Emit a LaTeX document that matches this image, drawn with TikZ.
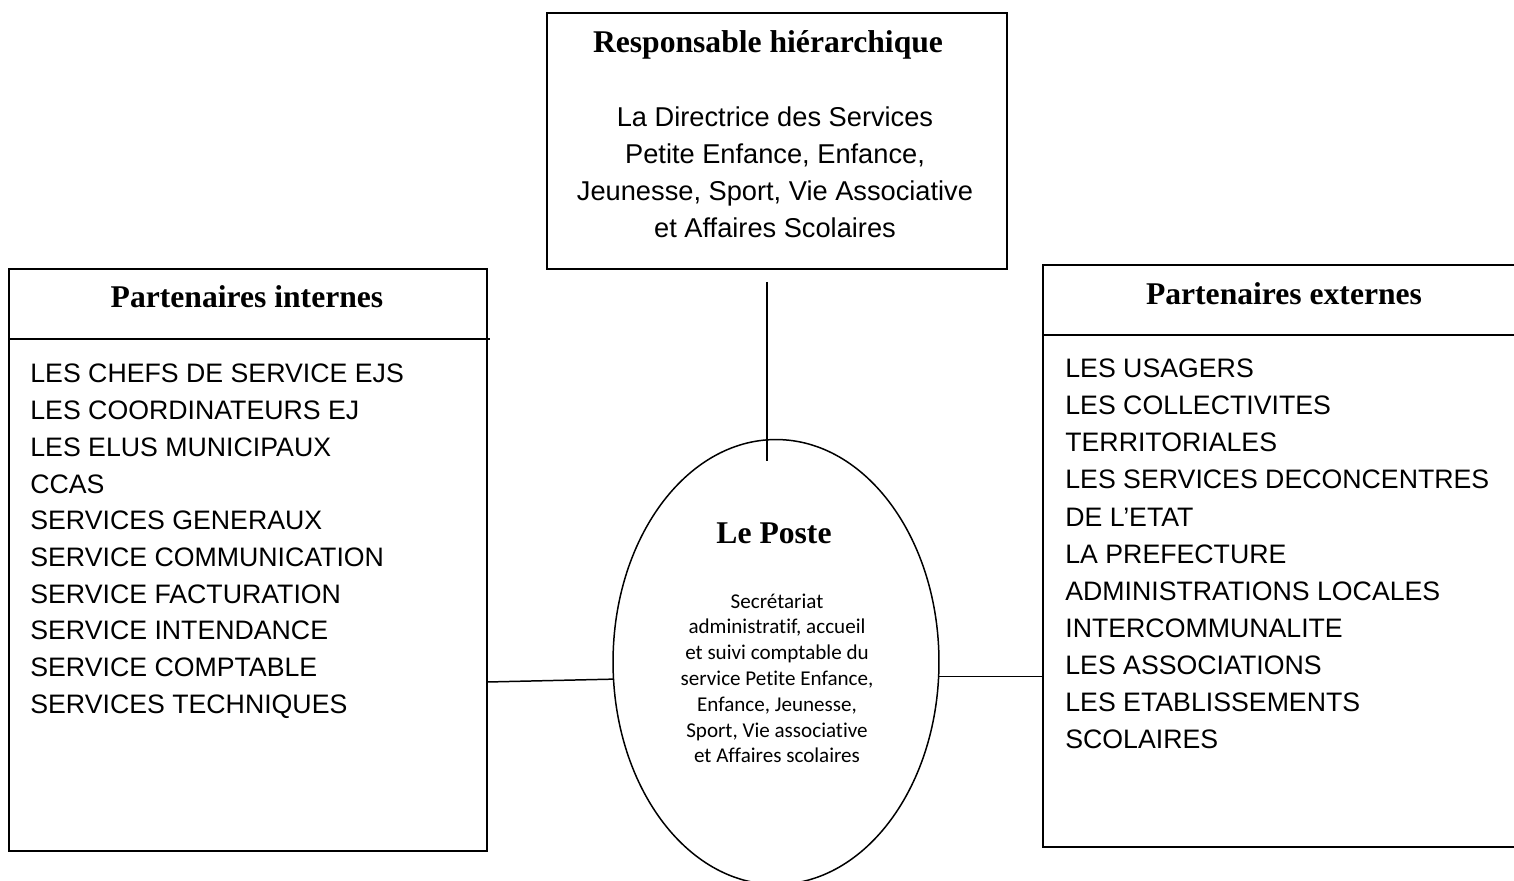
\documentclass[tikz,border=0pt]{standalone}
\usepackage{fontspec}
\setmainfont{Liberation Serif}
\newfontfamily\comicfont{Liberation Sans}
\newfontfamily\calfont[Ligatures=NoCommon]{Carlito}
\usetikzlibrary{shapes.geometric}
\tikzset{
  titre/.style={font=\bfseries\fontsize{18}{22}\selectfont, anchor=base, inner sep=0pt},
  liste/.style={font=\comicfont\fontsize{15.2}{18}\selectfont, anchor=base west, inner sep=0pt},
  corps/.style={font=\comicfont\fontsize{15.5}{18}\selectfont, anchor=base, inner sep=0pt},
  petit/.style={font=\calfont\fontsize{12}{14}\selectfont, anchor=base, inner sep=0pt},
  cadre/.style={line width=1.1pt},
  trait/.style={line width=0.85pt}
}
\begin{document}
\begin{tikzpicture}[x=0.02cm,y=-0.02cm]

\clip (0,0) rectangle (1514,881);
\fill[white] (0,0) rectangle (1514,881);

\coordinate (RHa) at (547,13);
\coordinate (RHb) at (1007,269);
\coordinate (PIa) at (9,269);
\coordinate (PIb) at (487,851);
\coordinate (PEa) at (1530,265);
\coordinate (PEb) at (1530,847);

\coordinate (VHaut) at (767,282);
\coordinate (VBas) at (767,461);
\coordinate (GInt) at (487,682);
\coordinate (DExt) at (1043,674);

\draw[cadre] (RHa) rectangle (RHb);
\draw[cadre] (PIa) rectangle (PIb);
\draw[cadre] (9,339) -- (490,339);
\draw[cadre] (PEa) -| (1043,847) -- (PEb);
\draw[cadre] (1043,335) -- (1530,335);

\node[ellipse, draw, trait, minimum width=6.52cm, minimum height=8.9cm, inner sep=0pt] (poste) at (776,662) {};

\draw[trait] (VHaut) -- (VBas);
\draw[trait] (GInt) -- (poste.186);
\draw[trait] (poste.355.5) -- (poste.355.5 -| DExt);

\node[titre] (tRH) at (768,53) {Responsable hiérarchique};
\foreach \ligne [count=\i] in {La Directrice des Services, {Petite Enfance, Enfance,},
    {Jeunesse, Sport, Vie Associative}, et Affaires Scolaires}
  \node[corps] (rh\i) at (775,{127+36.7*(\i-1)}) {\ligne};

\node[titre] (tPI) at (247,308) {Partenaires internes};
\foreach \ligne [count=\i] in {LES CHEFS DE SERVICE EJS, LES COORDINATEURS EJ,
    LES ELUS MUNICIPAUX, CCAS, SERVICES GENERAUX, SERVICE COMMUNICATION,
    SERVICE FACTURATION, SERVICE INTENDANCE, SERVICE COMPTABLE, SERVICES TECHNIQUES}
  \node[liste] (pi\i) at (30,{383+36.7*(\i-1)}) {\ligne};

\node[titre] (tPE) at (1284,305) {Partenaires externes};
\foreach \ligne [count=\i] in {LES USAGERS, LES COLLECTIVITES, TERRITORIALES,
    LES SERVICES DECONCENTRES, DE L’ETAT, LA PREFECTURE, ADMINISTRATIONS LOCALES,
    INTERCOMMUNALITE, LES ASSOCIATIONS, LES ETABLISSEMENTS, SCOLAIRES}
  \node[liste] (pe\i) at (1065,{378+37*(\i-1)}) {\ligne};

\node[titre] (tLP) at (774,543) {Le Poste};
\foreach \ligne [count=\i] in {Secrétariat, {administratif, accueil},
    et suivi comptable du, {service Petite Enfance,}, {Enfance, Jeunesse,},
    {Sport, Vie associative}, et Affaires scolaires}
  \node[petit] (lp\i) at (777,{608+25.8*(\i-1)}) {\ligne};

\end{tikzpicture}
\end{document}
